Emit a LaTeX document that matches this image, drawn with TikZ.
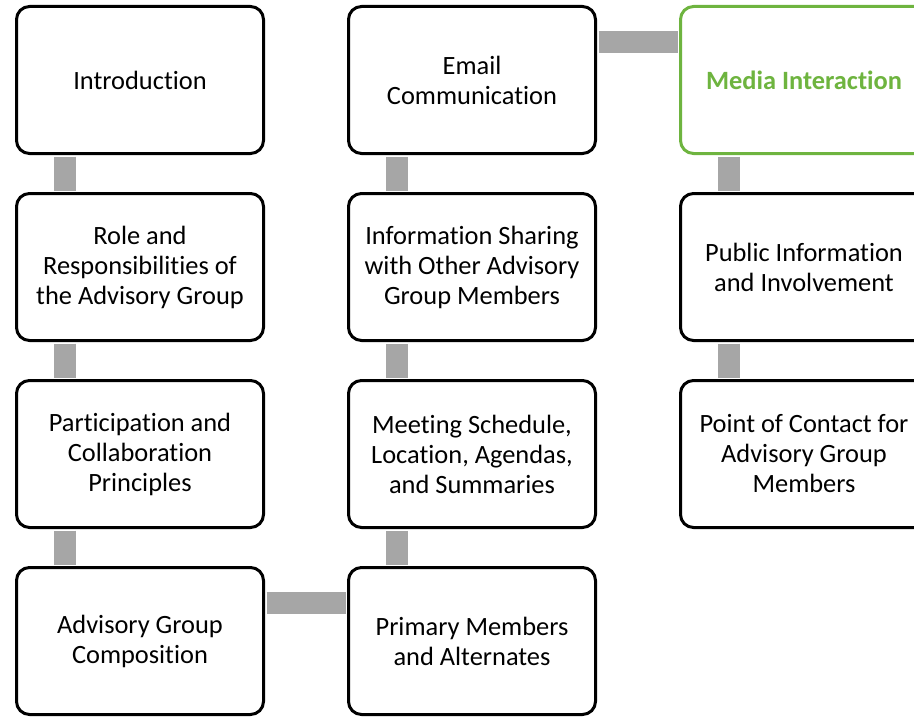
\documentclass[tikz,border=0pt]{standalone}
\usepackage{fontspec}
\setmainfont{Carlito}[Ligatures=NoCommon]
\usepackage{xcolor}
\definecolor{mediagreen}{HTML}{6EB43F}
\definecolor{bargray}{HTML}{A6A6A6}

\begin{document}
\begin{tikzpicture}[x=1pt,y=-1pt,
  box/.style={draw, line width=3pt, rounded corners=13pt, fill=white,
    minimum width=247pt, minimum height=147pt, align=center, inner sep=0pt,
    font=\fontsize{26.4}{30}\selectfont},
  bar/.style={draw=bargray, line width=22pt, shorten <=1.5pt, shorten >=1.5pt}]
  \useasboundingbox (0,0) rectangle (914,717);
  \clip (0,0) rectangle (914,717);
  \node[box] (intro) at (140,80) {Introduction};
  \node[box] (role) at (140,267) {Role and\\Responsibilities of\\the Advisory Group};
  \node[box] (part) at (140,454) {Participation and\\Collaboration\\Principles};
  \node[box] (comp) at (140,641) {Advisory Group\\Composition};
  \node[box] (prim) at (472,641) {Primary Members\\and Alternates};
  \node[box] (meet) at (472,454) {Meeting Schedule,\\Location, Agendas,\\and Summaries};
  \node[box] (info) at (472,267) {Information Sharing\\with Other Advisory\\Group Members};
  \node[box] (email) at (472,80) {Email\\Communication};
  \node[box, draw=mediagreen, text=mediagreen, font=\fontsize{26.4}{30}\selectfont\bfseries] (media) at (804,80) {Media Interaction};
  \node[box] (public) at (804,267) {Public Information\\and Involvement};
  \node[box] (contact) at (804,454) {Point of Contact for\\Advisory Group\\Members};
  % vertical bars
  \draw[bar] ([xshift=-75pt]intro.south) -- ([xshift=-75pt]role.north);
  \draw[bar] ([xshift=-75pt]role.south) -- ([xshift=-75pt]part.north);
  \draw[bar] ([xshift=-75pt]part.south) -- ([xshift=-75pt]comp.north);
  \draw[bar] ([xshift=-75pt]prim.north) -- ([xshift=-75pt]meet.south);
  \draw[bar] ([xshift=-75pt]meet.north) -- ([xshift=-75pt]info.south);
  \draw[bar] ([xshift=-75pt]info.north) -- ([xshift=-75pt]email.south);
  \draw[bar] ([xshift=-75pt]media.south) -- ([xshift=-75pt]public.north);
  \draw[bar] ([xshift=-75pt]public.south) -- ([xshift=-75pt]contact.north);
  % horizontal bars
  \draw[bar] ([yshift=38pt]comp.east) -- ([yshift=38pt]prim.west);
  \draw[bar] ([yshift=38pt]email.east) -- ([yshift=38pt]media.west);
\end{tikzpicture}
\end{document}
